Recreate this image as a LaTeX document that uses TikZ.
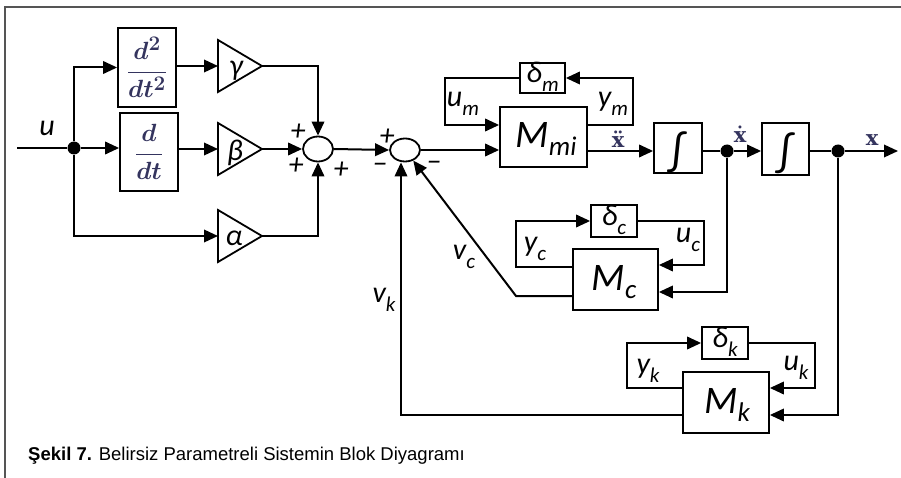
\documentclass[tikz,border=0pt]{standalone}
\usepackage{fontspec}
\setmainfont{Liberation Sans}
\newfontfamily\clb{Carlito}
\newfontfamily\dvs{DejaVu Serif}
\usetikzlibrary{arrows.meta,shapes.geometric}
\definecolor{mathc}{HTML}{34345E}
\definecolor{framec}{HTML}{555555}
\newcommand{\sbx}[1]{\raisebox{-0.28em}{\fontsize{21}{21}\selectfont #1}}
\newcommand{\sbm}[1]{\raisebox{-0.22em}{\fontsize{27}{27}\selectfont #1}}
\tikzset{
  blk/.style={draw, line width=1.8pt, rectangle, inner sep=0pt},
  ln/.style={line width=2pt},
  ar/.style={line width=2pt, -{Triangle[length=14pt,width=12.5pt]}},
  tri/.style={draw, line width=1.8pt, line join=miter},
  sumn/.style={draw, ellipse, line width=1.8pt, inner sep=0pt},
  dotn/.style={circle, fill, inner sep=0pt, minimum size=13pt},
  lab/.style={inner sep=0pt, font=\clb\itshape\fontsize{30}{30}\selectfont},
  sgn/.style={inner sep=0pt, font=\clb\itshape\fontsize{30}{30}\selectfont},
  bigm/.style={inner sep=0pt, font=\clb\itshape\fontsize{39}{39}\selectfont},
  intg/.style={inner sep=0pt, font=\clb\fontsize{44}{44}\selectfont},
  mth/.style={inner sep=0pt, text=mathc, anchor=south, font=\dvs\bfseries\fontsize{21}{21}\selectfont},
  frac/.style={blk, text=mathc, font=\boldmath\fontsize{29}{29}\selectfont},
}
\begin{document}
\begin{tikzpicture}[x=1pt,y=-1pt]
\useasboundingbox (0,0) rectangle (901,478);
% frame
\draw[framec, line width=1.3pt] (5,478) -- (5,7) -- (901,7);

% left part
\coordinate (uin) at (17,148);
\node[dotn] (j0) at (74,148) {};
\node[frac, minimum width=58pt, minimum height=79pt] (dd2) at (147,67.5) {$\displaystyle\frac{d^2}{dt^2}$};
\node[frac, minimum width=58pt, minimum height=78pt] (dd1) at (149,152) {$\displaystyle\frac{d}{dt}$};

% gain triangles
\coordinate (gL) at (218,66);  \coordinate (gA) at (262,66);
\coordinate (bL) at (218,149); \coordinate (bA) at (262,149);
\coordinate (aL) at (218,236); \coordinate (aA) at (262,236);
\draw[tri] (218,40) -- (gA) -- (218,92) -- cycle;
\draw[tri] (218,123) -- (bA) -- (218,175) -- cycle;
\draw[tri] (218,210) -- (aA) -- (218,262) -- cycle;
\node[lab] (gam) at (236,71) {γ};
\node[lab] (bet) at (235,153) {β};
\node[lab] (alp) at (234,238) {α};

\node[sumn, minimum width=30pt, minimum height=25pt] (sum1) at (318,149) {};
\node[sumn, minimum width=30pt, minimum height=23pt] (sum2) at (405,150) {};

% main chain blocks
\node[blk, minimum width=87pt, minimum height=60pt] (Mmi) at (543.5,137) {};
\node[bigm] (Mmit) at (546,139) {M\sbm{mi}};
\node[blk, minimum width=45pt, minimum height=30pt] (dm) at (542.5,78) {};
\node[lab] (dmt) at (542.5,77) {δ\sbx{m}};
\node[blk, minimum width=48pt, minimum height=50pt] (int1) at (678,148) {};
\node[intg] (int1t) at (678,152) {∫};
\node[blk, minimum width=47pt, minimum height=52pt] (int2) at (785.5,149) {};
\node[intg] (int2t) at (785.5,153) {∫};
\node[dotn] (j1) at (727,151) {};
\node[dotn] (j2) at (838,151) {};
\coordinate (xout) at (898,151);

% M_c loop
\node[blk, minimum width=85pt, minimum height=61pt] (Mc) at (615.5,279.5) {};
\node[bigm] (Mct) at (614,282) {M\sbm{c}};
\node[blk, minimum width=46pt, minimum height=32pt] (dc) at (614,221) {};
\node[lab] (dct) at (614,220) {δ\sbx{c}};

% M_k loop
\node[blk, minimum width=86pt, minimum height=61pt] (Mk) at (726,402.5) {};
\node[bigm] (Mkt) at (727,405) {M\sbm{k}};
\node[blk, minimum width=46pt, minimum height=32pt] (dk) at (725,343) {};
\node[lab] (dkt) at (725,342) {δ\sbx{k}};

% connectors left
\draw[ln] (uin) -- (j0);
\draw[ar] (j0) |- (dd2.west);
\draw[ar] (j0) -- (dd1.west |- j0);
\draw[ar] (j0) |- (aL);
\draw[ar] (dd2.east |- gL) -- (gL);
\draw[ar] (dd1.east |- bL) -- (bL);
\draw[ar] (gA) -| (sum1.north);
\draw[ar] (bA) -- (sum1.west);
\draw[ar] (aA) -| (sum1.south);
\draw[ar] (sum1.east) -- (sum2.west);
\draw[ar] (sum2.east) -- (Mmi.west |- sum2.east);

% M_mi loop
\coordinate (um1) at (445,125);
\coordinate (ym1) at (633,125);
\draw[ar] (dm.west) -| (um1) -- (Mmi.west |- um1);
\draw[ar] (Mmi.east |- ym1) -- (ym1) |- (dm.east);

% main chain
\draw[ar] (Mmi.east |- j1) -- (int1.west |- j1);
\draw[ln] (int1.east |- j1) -- (j1);
\draw[ar] (j1) -- (int2.west |- j1);
\draw[ln] (int2.east |- j2) -- (j2);
\draw[ar] (j2) -- (xout);

% M_c connections
\coordinate (cB) at (727,292);
\coordinate (uc1) at (704,265);
\coordinate (yc1) at (516,267);
\coordinate (vcB) at (516,296);
\draw[ar] (j1) -- (cB) -- (Mc.east |- cB);
\draw[ar] (dc.east) -| (uc1) -- (Mc.east |- uc1);
\draw[ar] (Mc.west |- yc1) -- (yc1) |- (dc.west);
\draw[ar] (Mc.west |- vcB) -- (vcB) -- (sum2.-52);

% M_k connections
\coordinate (kB) at (838,415);
\coordinate (uk1) at (815,388);
\coordinate (yk1) at (627,388);
\coordinate (vkB) at (401,415);
\draw[ar] (j2) -- (kB) -- (Mk.east |- kB);
\draw[ar] (dk.east) -| (uk1) -- (Mk.east |- uk1);
\draw[ar] (Mk.west |- yk1) -- (yk1) |- (dk.west);
\draw[ar] (Mk.west |- vkB) -- (vkB) -- (vkB |- sum2.south);

% labels
\node[lab] (ulab) at (47,128) {u};
\node[sgn] (p1) at (298,132) {+};
\node[sgn] (p2) at (296,166) {+};
\node[sgn] (p3) at (341,170) {+};
\node[sgn] (p4) at (387,137) {+};
\node[sgn] (m1) at (380,168) {–};
\node[sgn] (m2) at (434,166) {–};
\node[lab] (umlab) at (463,104) {u\sbx{m}};
\node[lab] (ymlab) at (613,104) {y\sbx{m}};
\node[mth] (xddl) at (618,148) {ẍ};
\node[mth] (xdl) at (740,143) {ẋ};
\node[mth] (xl) at (872,146) {x};
\node[lab] (vclab) at (464,257) {v\sbx{c}};
\node[lab] (yclab) at (535,249) {y\sbx{c}};
\node[lab] (uclab) at (688,240) {u\sbx{c}};
\node[lab] (vklab) at (384,300) {v\sbx{k}};
\node[lab] (yklab) at (648,371) {y\sbx{k}};
\node[lab] (uklab) at (796,368) {u\sbx{k}};

% caption
\node[anchor=base west, inner sep=0pt, font=\fontsize{18.5}{20}\selectfont] (cap) at (28,460) {\textbf{Şekil 7.} Belirsiz Parametreli Sistemin Blok Diyagramı};
\end{tikzpicture}
\end{document}
